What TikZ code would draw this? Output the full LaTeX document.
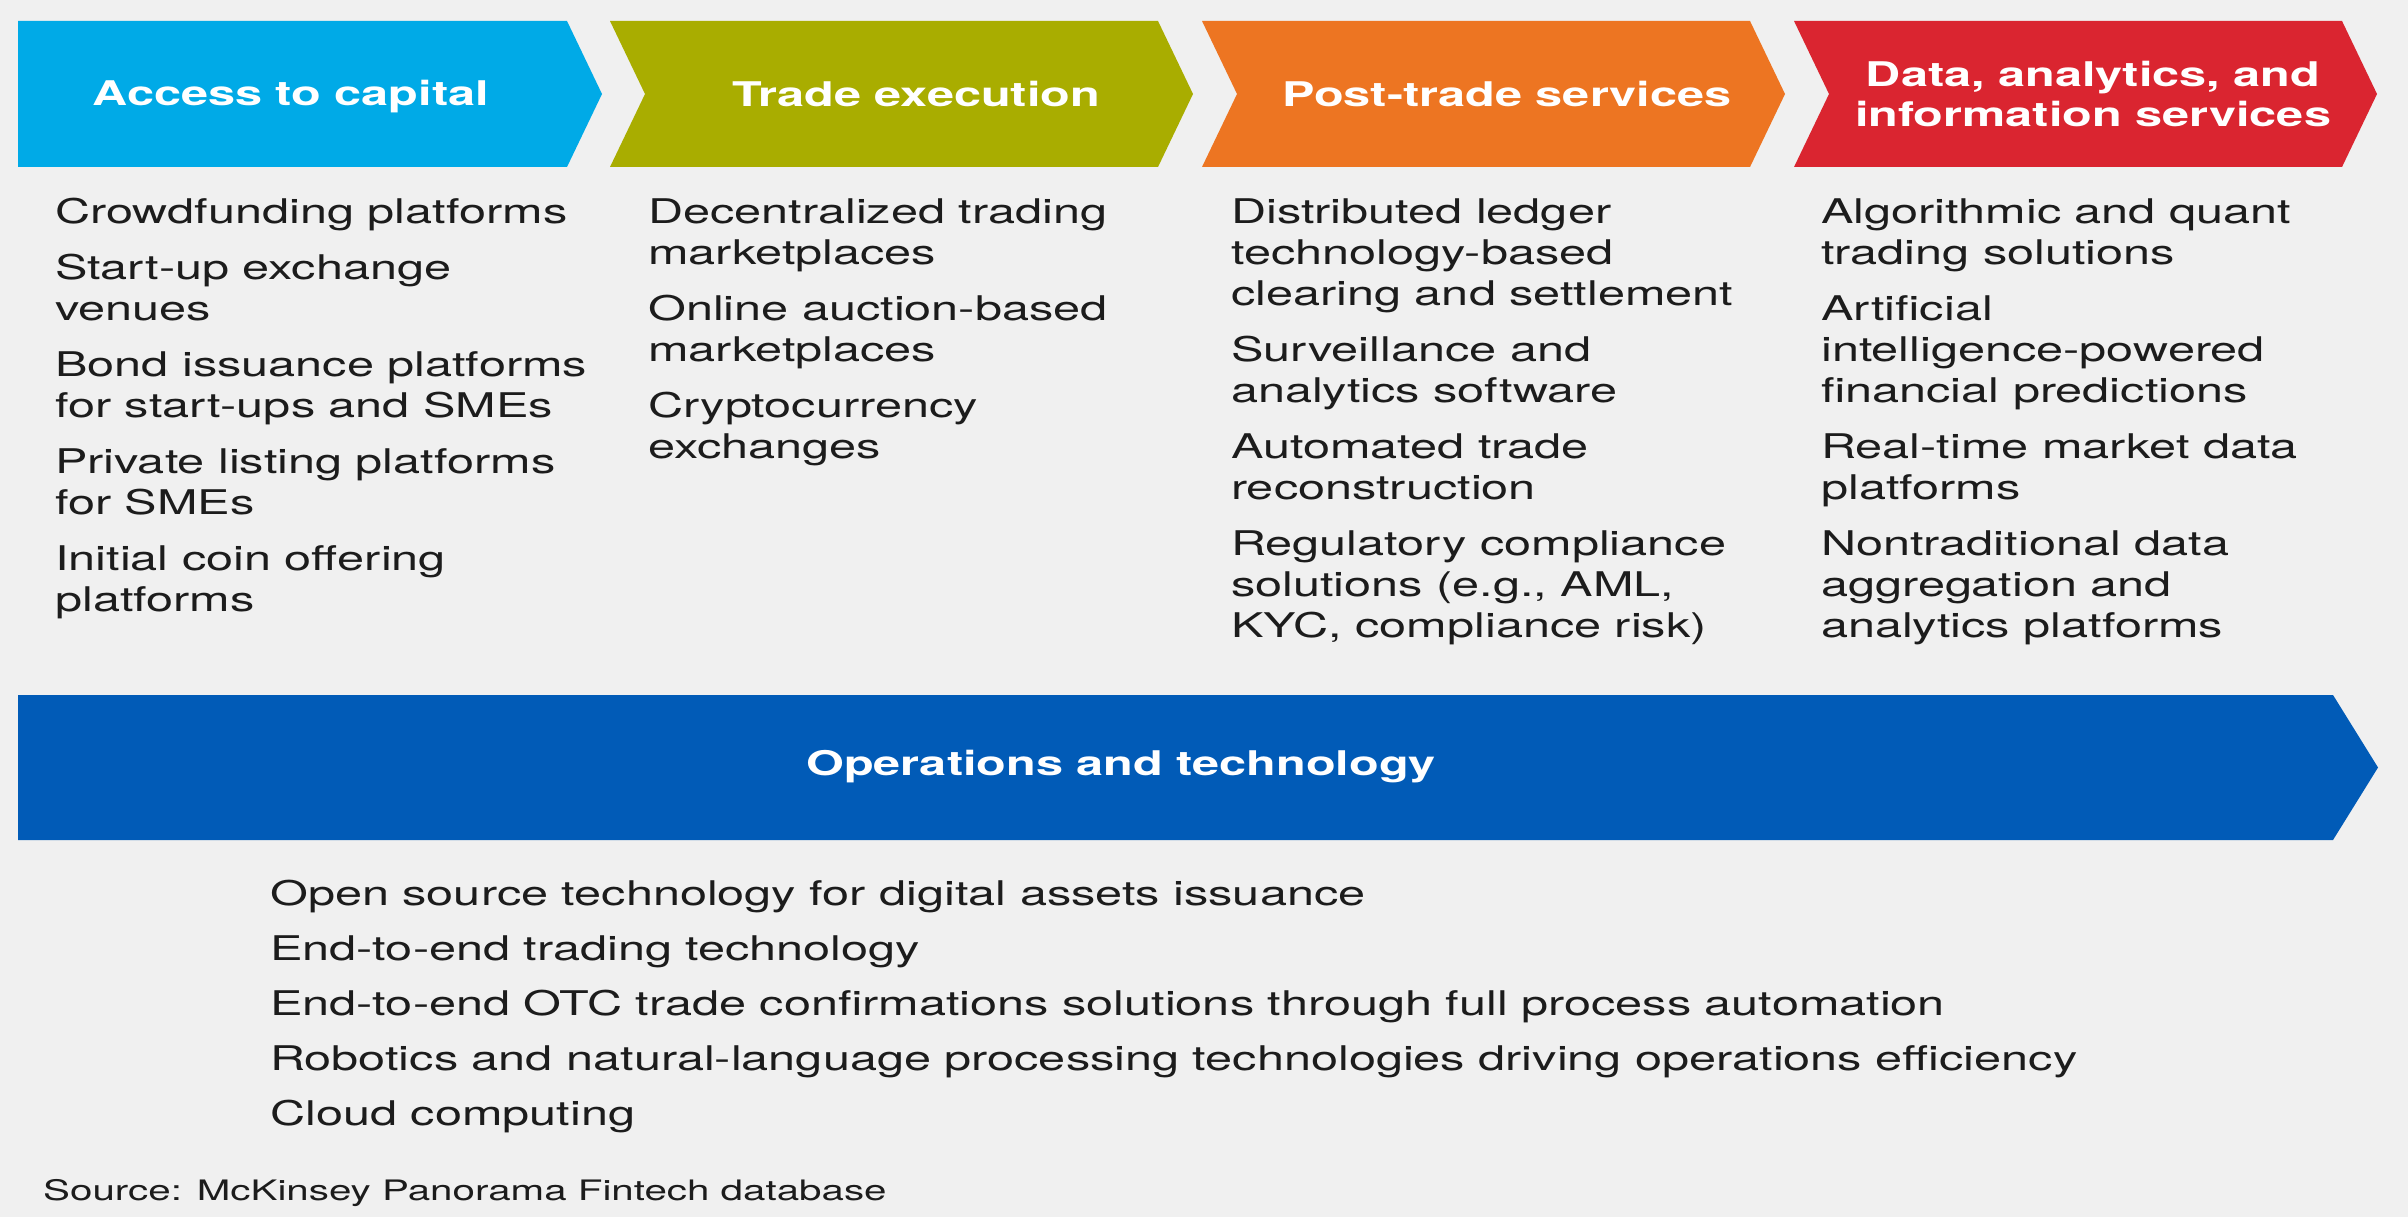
\documentclass[tikz,border=0pt]{standalone}
\usepackage{fontspec}
\setmainfont{TeX Gyre Heros}[FakeStretch=1.43]
\definecolor{pagebg}{HTML}{F0F0F0}
\definecolor{ink}{HTML}{1C1C1C}
\definecolor{capblue}{HTML}{00AAE7}
\definecolor{tradeolive}{HTML}{A9AD00}
\definecolor{postorange}{HTML}{ED7522}
\definecolor{datared}{HTML}{DA2530}
\definecolor{opsblue}{HTML}{015BB7}
\newcommand{\firstline}{\rule{0pt}{30pt}}
\begin{document}
\begin{tikzpicture}[x=1pt,y=-1pt,
  headtext/.style={anchor=base, inner sep=0pt, text=white,
    font=\fontsize{34}{40}\selectfont\bfseries},
  bodytext/.style={anchor=north west, inner sep=0pt, align=left, text=ink,
    font=\fontsize{34}{41}\selectfont},
  opstext/.style={anchor=north west, inner sep=0pt, align=left, text=ink,
    font=\fontsize{34}{55}\selectfont},
  notetext/.style={anchor=base west, inner sep=0pt, text=ink,
    font=\fontsize{28.2}{34}\selectfont}]

% page
\fill[pagebg] (0,0) rectangle (2408,1217);
\useasboundingbox (0,0) rectangle (2408,1217);

% value-chain chevrons
\fill[capblue] (18,21) -- (567,21) -- (602,94) -- (567,167) -- (18,167) -- cycle;
\fill[tradeolive] (610,21) -- (1158,21) -- (1193,94) -- (1158,167) -- (610,167) -- (645,94) -- cycle;
\fill[postorange] (1202,21) -- (1750,21) -- (1785,94) -- (1750,167) -- (1202,167) -- (1237,94) -- cycle;
\fill[datared] (1794,21) -- (2342,21) -- (2377,94) -- (2342,167) -- (1794,167) -- (1829,94) -- cycle;

% operations band
\fill[opsblue] (18,695) -- (2333,695) -- (2378,767.5) -- (2333,840) -- (18,840) -- cycle;

% chevron titles
\node[headtext] (hcap) at (291,106) {Access to capital};
\node[headtext] (htrade) at (916,107) {Trade execution};
\node[headtext] (hpost) at (1507,107) {Post-trade services};
\node[headtext, anchor=north, align=center] (hdata) at (2093,56)
  {\firstline Data, analytics, and\\information services};
\node[headtext] (hops) at (1121,775) {Operations and technology};

% column contents
\node[bodytext] (ccap) at (55,193) {\firstline Crowdfunding platforms\\[15pt]
  Start-up exchange\\venues\\[15pt]
  Bond issuance platforms\\for start-ups and SMEs\\[15pt]
  Private listing platforms\\for SMEs\\[15pt]
  Initial coin offering\\platforms};
\node[bodytext] (ctrade) at (648,193) {\firstline Decentralized trading\\marketplaces\\[15pt]
  Online auction-based\\marketplaces\\[15pt]
  Cryptocurrency\\exchanges};
\node[bodytext] (cpost) at (1231,193) {\firstline Distributed ledger\\technology-based\\clearing and settlement\\[15pt]
  Surveillance and\\analytics software\\[15pt]
  Automated trade\\reconstruction\\[15pt]
  Regulatory compliance\\solutions (e.g., AML,\\KYC, compliance risk)};
\node[bodytext] (cdata) at (1821,193) {\firstline Algorithmic and quant\\trading solutions\\[15pt]
  Artificial\\intelligence-powered\\financial predictions\\[15pt]
  Real-time market data\\platforms\\[15pt]
  Nontraditional data\\aggregation and\\analytics platforms};

% operations list
\node[opstext] (cops) at (270,875) {\firstline Open source technology for digital assets issuance\\
  End-to-end trading technology\\
  End-to-end OTC trade confirmations solutions through full process automation\\
  Robotics and natural-language processing technologies driving operations efficiency\\
  Cloud computing};

% source note
\node[notetext] (source) at (43,1200) {Source: McKinsey Panorama Fintech database};
\end{tikzpicture}
\end{document}
